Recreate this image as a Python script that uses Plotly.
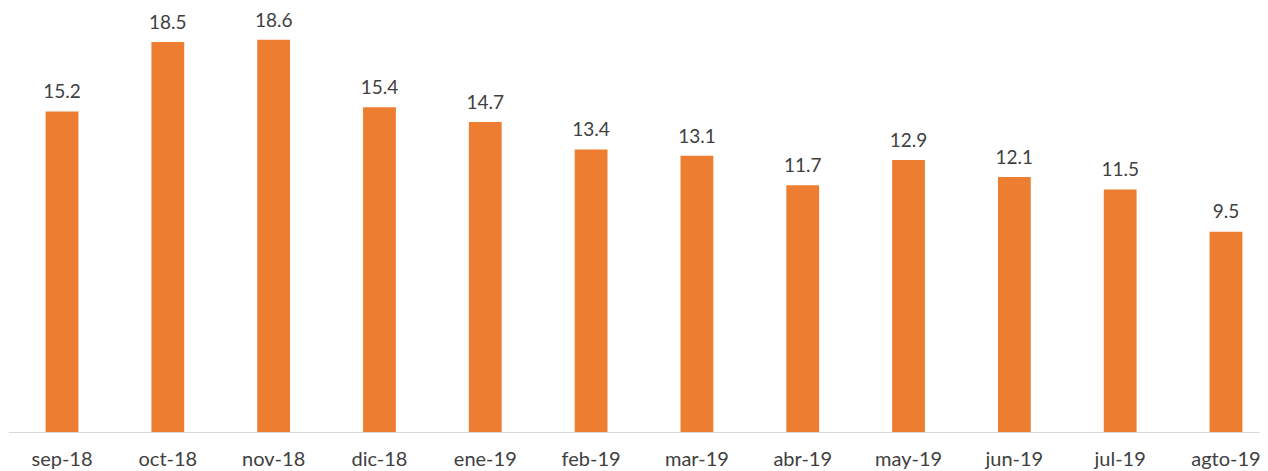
import plotly.graph_objects as go

categories = ["sep-18", "oct-18", "nov-18", "dic-18", "ene-19", "feb-19",
              "mar-19", "abr-19", "may-19", "jun-19", "jul-19", "agto-19"]
values = [15.2, 18.5, 18.6, 15.4, 14.7, 13.4, 13.1, 11.7, 12.9, 12.1, 11.5, 9.5]
labels = [f"{v:.1f}" for v in values]

fig = go.Figure()
fig.add_trace(go.Bar(
    x=categories, y=values,
    marker=dict(color="#ED7D31", line=dict(width=0)),
    width=0.31, hoverinfo="x+y",
))
fig.add_trace(go.Scatter(
    x=categories, y=values, text=labels, mode="markers+text",
    textposition="top center",
    marker=dict(size=12, opacity=0),
    textfont=dict(family="Lato", size=19, color="#404040"),
    cliponaxis=False, hoverinfo="skip",
))
fig.update_layout(
    width=1260, height=463,
    margin=dict(l=1, r=0, t=0, b=39),
    plot_bgcolor="white", paper_bgcolor="white",
    showlegend=False,
    xaxis=dict(range=[-0.501, 11.397], showline=True, linecolor="#D9D9D9", linewidth=1,
               ticks="", tickfont=dict(family="Lato", size=20, color="#404040"),
               ticklabelstandoff=9, automargin=False),
    yaxis=dict(range=[0, 20.11], visible=False, showgrid=False),
)
fig.write_html("out.html")
